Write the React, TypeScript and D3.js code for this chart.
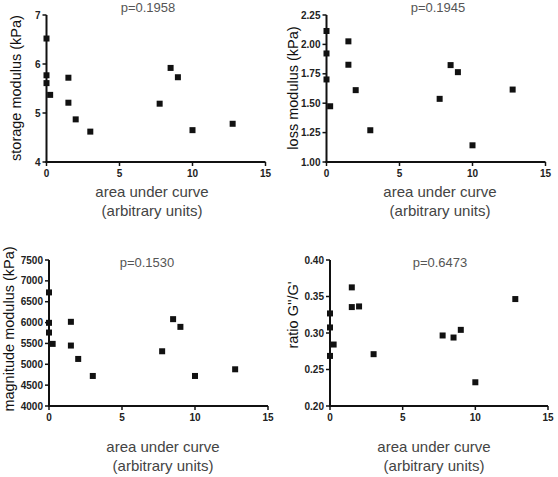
import React from "react";
import * as d3 from "d3";

const areaX = [0, 0, 0, 0.25, 1.5, 1.5, 2, 3, 7.75, 8.5, 9, 10, 12.75];
const storage = [6.52, 5.77, 5.61, 5.37, 5.72, 5.21, 4.87, 4.62, 5.19, 5.92, 5.73, 4.65, 4.78];
const loss = [2.114, 1.923, 1.702, 1.474, 2.026, 1.827, 1.611, 1.27, 1.537, 1.824, 1.764, 1.142, 1.616];
const magnitude = [6723, 5994, 5761, 5489, 6018, 5449, 5128, 4720, 5312, 6082, 5897, 4720, 4880];
const ratioX = [0, 0, 0, 0.25, 1.5, 1.5, 2, 3, 7.75, 8.5, 9, 10, 12.75];
const ratio = [0.3268, 0.3076, 0.2686, 0.2842, 0.3625, 0.3355, 0.3364, 0.271, 0.2966, 0.2938, 0.3043, 0.2325, 0.3465];

const xTicks = [0, 5, 10, 15];
const storageTicks = [4, 5, 6, 7];
const lossTicks = [1.0, 1.25, 1.5, 1.75, 2.0, 2.25];
const magTicks = [4000, 4500, 5000, 5500, 6000, 6500, 7000, 7500];
const ratioTicks = [0.2, 0.25, 0.3, 0.35, 0.4];

const FONT = "'Liberation Sans', Arial, sans-serif";

type PanelProps = {
  xs: number[];
  ys: number[];
  yTicks: number[];
  yFmt: (v: number) => string;
  left: number;
  right: number;
  top: number;
  bottom: number;
  title: string;
  titleX: number;
  titleY: number;
  yTitle: string;
  yTitleX: number;
  yTitleY: number;
  xTitleX: number;
  xTitleY: number;
  xTickY: number;
};

function Panel(p: PanelProps) {
  const x = d3.scaleLinear().domain([0, 15]).range([p.left, p.right]);
  const y = d3
    .scaleLinear()
    .domain([p.yTicks[0], p.yTicks[p.yTicks.length - 1]])
    .range([p.bottom, p.top]);
  const s = 6;
  return (
    <g fontFamily={FONT}>
      {p.xs.map((xv, i) => (
        <rect
          key={i}
          x={x(xv) - s / 2}
          y={y(p.ys[i]) - s / 2}
          width={s}
          height={s}
          fill="#111"
        />
      ))}
      <line x1={p.left} x2={p.left} y1={p.top} y2={p.bottom + 1} stroke="#111" strokeWidth={2} />
      <line x1={p.left - 1} x2={p.right} y1={p.bottom} y2={p.bottom} stroke="#111" strokeWidth={2} />
      {p.yTicks.map((t) => (
        <g key={"y" + t}>
          <line x1={p.left - 4} x2={p.left} y1={y(t)} y2={y(t)} stroke="#111" strokeWidth={1.5} />
          <text
            x={p.left - 6}
            y={y(t)}
            dy="0.35em"
            textAnchor="end"
            fontSize={10}
            fontWeight="bold"
            fill="#222"
          >
            {p.yFmt(t)}
          </text>
        </g>
      ))}
      {xTicks.map((t) => (
        <g key={"x" + t}>
          <line x1={x(t)} x2={x(t)} y1={p.bottom} y2={p.bottom + 4} stroke="#111" strokeWidth={1.5} />
          <text x={x(t)} y={p.xTickY} textAnchor="middle" fontSize={10} fontWeight="bold" fill="#222">
            {t}
          </text>
        </g>
      ))}
      <text x={p.titleX} y={p.titleY} textAnchor="middle" fontSize={13} fill="#555">
        {p.title}
      </text>
      <text
        transform={`translate(${p.yTitleX},${p.yTitleY}) rotate(-90)`}
        textAnchor="middle"
        dy="0.35em"
        fontSize={14.5}
        fill="#111"
      >
        {p.yTitle}
      </text>
      <text x={p.xTitleX} y={p.xTitleY} textAnchor="middle" fontSize={15} fill="#444">
        area under curve
      </text>
      <text x={p.xTitleX} y={p.xTitleY + 19} textAnchor="middle" fontSize={15} fill="#444">
        (arbitrary units)
      </text>
    </g>
  );
}

export default function App() {
  return (
    <svg
      width={558}
      height={477}
      style={{ position: "absolute", left: 0, top: 0, background: "#fff" }}
    >
      <rect width={558} height={477} fill="#fff" />
      <Panel
        xs={areaX}
        ys={storage}
        yTicks={storageTicks}
        yFmt={(v) => d3.format("d")(v)}
        left={46.5}
        right={265.5}
        top={15}
        bottom={162}
        title="p=0.1958"
        titleX={148}
        titleY={12}
        yTitle="storage modulus (kPa)"
        yTitleX={16}
        yTitleY={88}
        xTitleX={152}
        xTitleY={197}
        xTickY={177}
      />
      <Panel
        xs={areaX}
        ys={loss}
        yTicks={lossTicks}
        yFmt={(v) => d3.format(".2f")(v)}
        left={326.5}
        right={545.5}
        top={15}
        bottom={162}
        title="p=0.1945"
        titleX={438}
        titleY={12}
        yTitle="loss modulus (kPa)"
        yTitleX={293}
        yTitleY={88}
        xTitleX={440}
        xTitleY={197}
        xTickY={177}
      />
      <Panel
        xs={areaX}
        ys={magnitude}
        yTicks={magTicks}
        yFmt={(v) => d3.format("d")(v)}
        left={49}
        right={268}
        top={260}
        bottom={406}
        title="p=0.1530"
        titleX={147}
        titleY={267}
        yTitle="magnitude modulus (kPa)"
        yTitleX={9}
        yTitleY={329}
        xTitleX={163}
        xTitleY={452}
        xTickY={421}
      />
      <Panel
        xs={ratioX}
        ys={ratio}
        yTicks={ratioTicks}
        yFmt={(v) => d3.format(".2f")(v)}
        left={330}
        right={548}
        top={260}
        bottom={406}
        title="p=0.6473"
        titleX={440}
        titleY={267}
        yTitle="ratio G''/G'"
        yTitleX={293}
        yTitleY={315}
        xTitleX={434}
        xTitleY={452}
        xTickY={421}
      />
    </svg>
  );
}
